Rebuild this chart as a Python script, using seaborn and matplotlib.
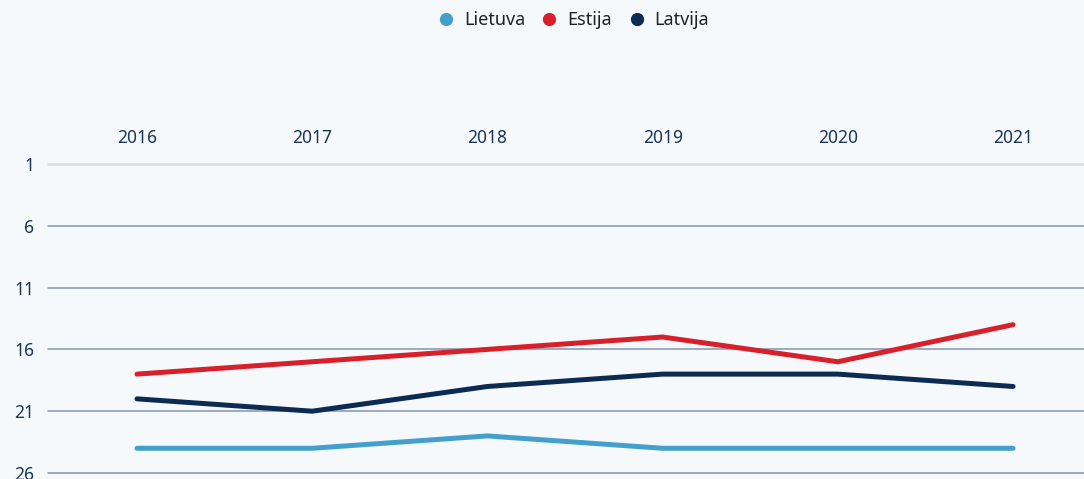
import matplotlib
matplotlib.use("Agg")
import matplotlib.pyplot as plt
import seaborn as sns
import pandas as pd
from matplotlib.lines import Line2D

# data (rank, lower is better)
years = ["2016", "2017", "2018", "2019", "2020", "2021"]
lietuva = [24, 24, 23, 24, 24, 24]
estija = [18, 17, 16, 15, 17, 14]
latvija = [20, 21, 19, 18, 18, 19]
yticks = [1, 6, 11, 16, 21, 26]

series = {"Lietuva": lietuva, "Estija": estija, "Latvija": latvija}
colors = {"Lietuva": "#44a0cb", "Estija": "#d7202a", "Latvija": "#0c2a52"}

rows = []
for name, vals in series.items():
    for i, v in enumerate(vals):
        rows.append({"x": i, "rank": v, "country": name})
df = pd.DataFrame(rows)

bg = "#f5f9fc"
text_col = "#1b3557"

sns.set_style("white")
plt.rcParams["font.family"] = ["Noto Sans", "DejaVu Sans"]

fig = plt.figure(figsize=(10.84, 4.79), dpi=100, facecolor=bg)
ax = fig.add_axes([48 / 1084, 6 / 479, 1 - 48 / 1084, (473 - 164) / 479])
ax.set_facecolor(bg)

sns.lineplot(data=df, x="x", y="rank", hue="country", palette=colors,
             linewidth=3.6, legend=False, ax=ax, solid_capstyle="round")

ax.set_xlim(-0.508, 5.405)
ax.set_ylim(26, 1)
ax.set_yticks(yticks)
ax.set_yticklabels([str(t) for t in yticks])
ax.set_xticks(range(len(years)))
ax.set_xticklabels(years)
ax.xaxis.tick_top()
ax.tick_params(axis="x", length=0, pad=12, labelsize=12.5, colors=text_col)
ax.tick_params(axis="y", length=0, pad=10, labelsize=12.5, colors=text_col)
ax.set_xlabel("")
ax.set_ylabel("")

for t in yticks:
    if t == 1:
        ax.axhline(t, color="#d9dcdf", lw=1.8, zorder=0, clip_on=False)
    else:
        ax.axhline(t, color="#8194b0", lw=1.1, zorder=0, clip_on=False)

for s in ax.spines.values():
    s.set_visible(False)

handles = [Line2D([], [], marker="o", linestyle="", markersize=8.5,
                  color=colors[n]) for n in series]
fig.legend(handles, list(series.keys()), loc="center", bbox_to_anchor=(573 / 1084, 1 - 20 / 479),
           ncol=3, frameon=False, fontsize=13, handlelength=1.0, handletextpad=0.5,
           columnspacing=0.85, labelcolor="#222222")

fig.savefig("out.png", dpi=100, facecolor=bg)
